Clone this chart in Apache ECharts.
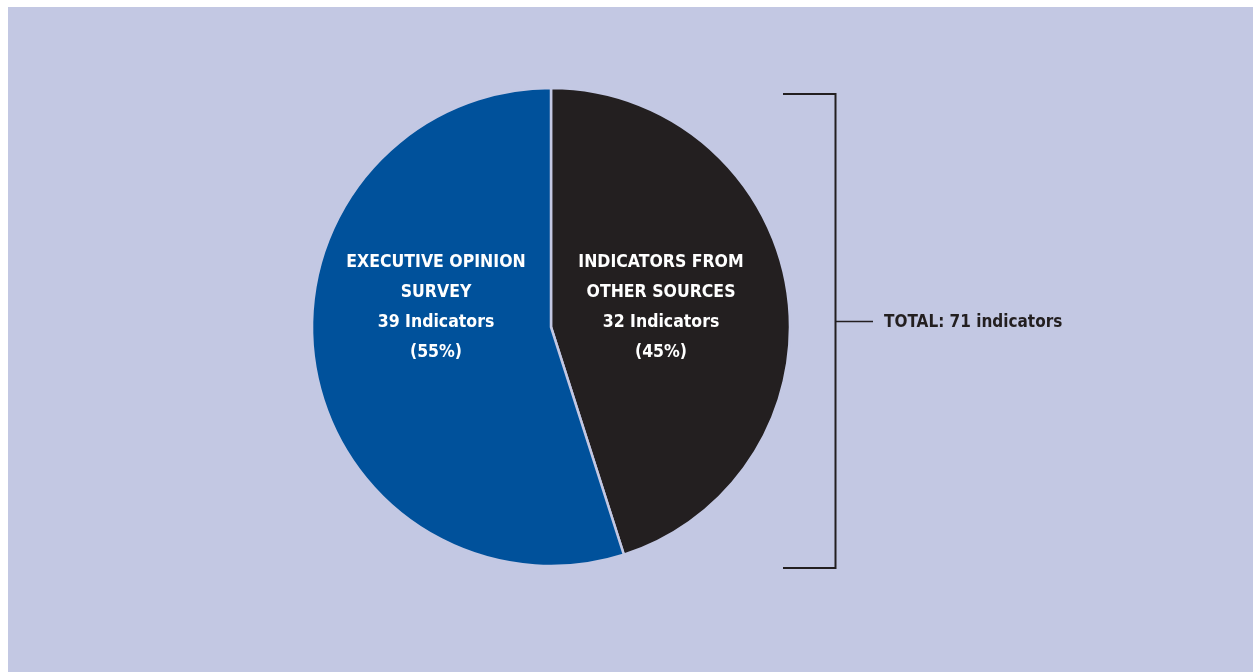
<!DOCTYPE html>
<html>
<head>
<meta charset="utf-8">
<script src="https://cdn.jsdelivr.net/npm/echarts@6/dist/echarts.min.js"></script>
<style>
html,body{margin:0;padding:0;background:#ffffff;}
#chart{width:1253px;height:672px;}
</style>
</head>
<body>
<div id="chart"></div>
<script>
// Data
const categories = ['INDICATORS FROM\nOTHER SOURCES', 'EXECUTIVE OPINION\nSURVEY'];
const values = [32, 39];
const percents = ['45%', '55%'];
const colors = ['#231f20', '#00519b'];
const totalLabel = 'TOTAL: 71 indicators';

const FONT = '"DejaVu Sans Condensed", "Liberation Sans Narrow", "Arial Narrow", sans-serif';
const BG = '#c3c8e3';
const labelPos = [[661, 307], [436, 307]];

const chart = echarts.init(document.getElementById('chart'), null, {renderer: 'canvas'});
chart.setOption({
  animation: false,
  backgroundColor: '#ffffff',
  graphic: [
    {type: 'rect', z: -10, shape: {x: 8, y: 7, width: 1245, height: 665}, style: {fill: BG}},
    {type: 'polyline', z: 10, shape: {points: [[783, 94], [835.5, 94], [835.5, 568], [783, 568]]},
      style: {stroke: '#231f20', lineWidth: 2, fill: null}},
    {type: 'line', z: 10, shape: {x1: 835.5, y1: 321.5, x2: 873, y2: 321.5},
      style: {stroke: '#231f20', lineWidth: 1.6}},
    {type: 'text', z: 10, x: 884, y: 322.5,
      style: {text: totalLabel, fill: '#231f20', font: 'bold 17px ' + FONT, textVerticalAlign: 'middle', textAlign: 'left'}}
  ],
  series: [{
    type: 'pie',
    center: [551, 327],
    radius: [0, 239],
    startAngle: 90,
    clockwise: true,
    silent: true,
    itemStyle: {borderColor: BG, borderWidth: 2.5},
    label: {
      show: true,
      position: 'inside',
      color: '#ffffff',
      fontFamily: FONT,
      fontWeight: 'bold',
      fontSize: 17.5,
      lineHeight: 30,
      align: 'center',
      formatter: function (p) {
        return p.name + '\n' + p.value + ' Indicators\n(' + percents[p.dataIndex] + ')';
      }
    },
    labelLayout: function (p) {
      const pos = labelPos[p.dataIndex];
      return {x: pos[0], y: pos[1], align: 'center', verticalAlign: 'middle'};
    },
    labelLine: {show: false},
    data: categories.map(function (c, i) {
      return {name: c, value: values[i], itemStyle: {color: colors[i]}};
    })
  }]
});
</script>
</body>
</html>
